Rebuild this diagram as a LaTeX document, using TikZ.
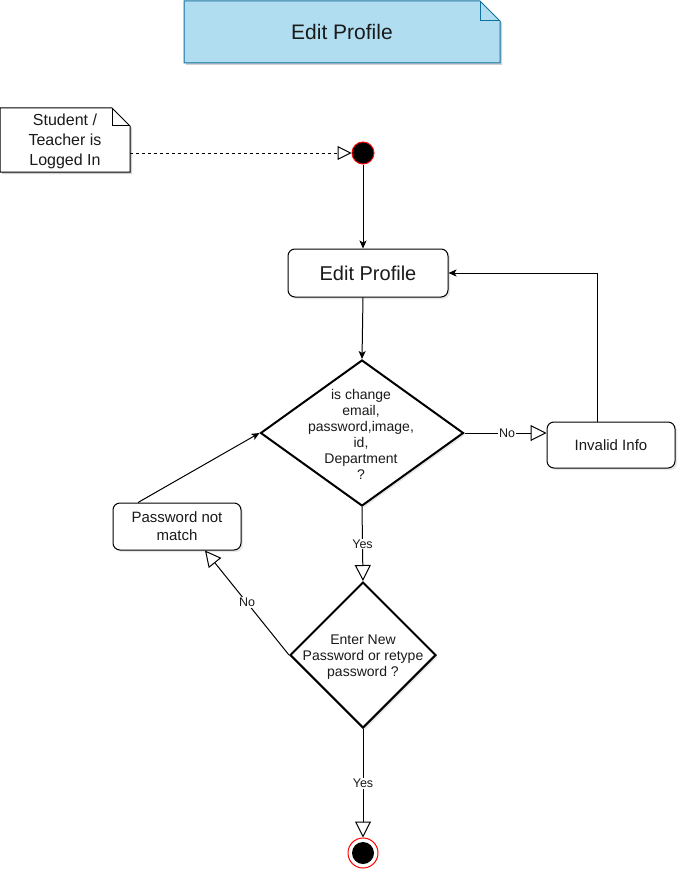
\documentclass[tikz,border=0pt]{standalone}
\usepackage{fontspec}
\setmainfont{Liberation Sans}
\usetikzlibrary{arrows.meta,shapes.geometric,shadows}
\definecolor{titlefill}{HTML}{B1DDF0}
\definecolor{titledraw}{HTML}{10739E}
\definecolor{txt}{HTML}{1A1A1A}
\begin{document}
\begin{tikzpicture}[x=1pt,y=-1pt,
  shad/.style={drop shadow={shadow xshift=2pt,shadow yshift=-2pt,opacity=0.18}},
  box/.style={draw, rounded corners=7pt, fill=white, shad, align=center, inner sep=0pt, line width=1pt, text=txt, font=\fontsize{15}{18}\selectfont},
  dec/.style={draw, diamond, line width=2pt, fill=white, shad, inner sep=0pt},
  dtext/.style={align=center, text=txt, font=\fontsize{14}{16}\selectfont},
  lbl/.style={fill=white, inner sep=1pt, text=txt, font=\fontsize{12.5}{14}\selectfont},
  conn/.style={draw, line width=1pt, -{Stealth[length=8pt,width=7pt,inset=2pt]}},
  oconn/.style={draw, line width=1pt, -{Triangle[open,length=16pt,width=16pt,fill=white]}},
]
\useasboundingbox (0,0) rectangle (687,880);
% title note
\fill[black,opacity=0.18,shift={(2,2)}] (184,1) -- (480,1) -- (500,21) -- (500,63) -- (184,63) -- cycle;
\draw[titledraw,fill=titlefill,line width=1pt] (184,1) -- (480,1) -- (500,21) -- (500,63) -- (184,63) -- cycle;
\draw[titledraw,line width=1pt] (480,1) -- (480,21) -- (500,21);
\node[text=txt,font=\fontsize{21}{25}\selectfont] (title) at (342,32) {Edit Profile};
% precondition note
\fill[black,opacity=0.18,shift={(2,2)}] (0,108) -- (112,108) -- (130,126) -- (130,172) -- (0,172) -- cycle;
\draw[fill=white,line width=1pt] (0,108) -- (112,108) -- (130,126) -- (130,172) -- (0,172) -- cycle;
\draw[line width=1pt] (112,108) -- (112,126) -- (130,126);
\node[minimum width=130pt, minimum height=64pt, align=center, text=txt, font=\fontsize{16}{20}\selectfont] (note) at (65,141) {Student /\\Teacher is\\Logged In};
% start
\node[circle, fill=black, draw=red, line width=1pt, minimum size=22pt, inner sep=0pt] (start) at (363,153) {};
% edit profile
\node[box, minimum width=160pt, minimum height=48pt, font=\fontsize{20}{24}\selectfont] (edit) at (368,273) {Edit Profile};
% decision 1
\node[dec, minimum width=203pt, minimum height=146pt] (d1) at (362,433) {};
\node[dtext] (d1t) at (361,434) {is change\\email,\\password,image,\\id,\\Department\\?};
% invalid info
\node[box, minimum width=128pt, minimum height=46pt] (inv) at (611,445) {Invalid Info};
% decision 2
\node[dec, minimum width=146pt, minimum height=146pt] (d2) at (363,655) {};
\node[dtext] (d2t) at (363,657) {Enter New\\Password or retype\\password ?};
% password not match
\node[box, minimum width=128pt, minimum height=47pt] (pnm) at (177,526.5) {Password not\\match};
% end
\node[circle, draw=red, line width=1pt, fill=white, minimum size=30pt, inner sep=0pt] (endn) at (363,853) {};
\node[circle, fill=black, minimum size=22pt, inner sep=0pt] (endin) at (endn) {};
% connectors
\draw[line width=1pt, dash pattern=on 3pt off 3pt, -{Triangle[open,length=14pt,width=14pt,fill=white]}] (note.east |- start.west) -- (start.west);
\draw[conn] (start.south) -- (start.south |- edit.north);
\draw[conn] (start |- edit.south) -- (d1.north);
\draw[oconn] (d1.east) -- node[lbl,pos=0.52]{No} (d1.east -| inv.west);
\draw[conn] ([xshift=-14pt]inv.north) |- (edit.east);
\draw[oconn] (d1.south) -- node[lbl]{Yes} (d2.north);
\draw[oconn] (d2.west) -- node[lbl]{No} ([xshift=28pt]pnm.south);
\draw[conn] ([xshift=-39pt]pnm.north) -- (d1.west);
\draw[oconn] (d2.south) -- node[lbl]{Yes} (endn.north);
\end{tikzpicture}
\end{document}
